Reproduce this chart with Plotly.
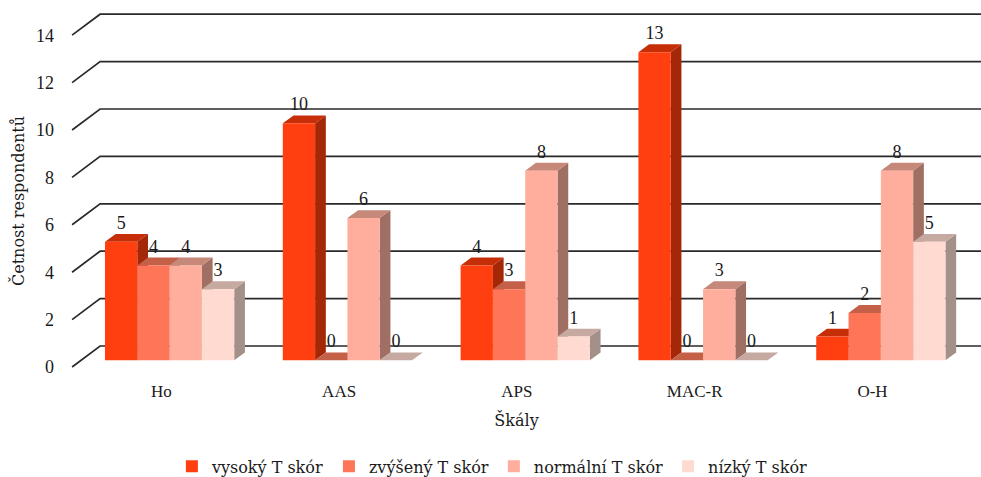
import plotly.graph_objects as go

categories = ["Ho", "AAS", "APS", "MAC-R", "O-H"]
series_names = ["vysoký T skór", "zvýšený T skór", "normální T skór", "nízký T skór"]
vysoky = [5, 10, 4, 13, 1]
zvyseny = [4, 0, 3, 0, 2]
normalni = [4, 6, 8, 3, 8]
nizky = [3, 0, 1, 0, 5]
y_ticks = [0, 2, 4, 6, 8, 10, 12, 14]

series_values = [vysoky, zvyseny, normalni, nizky]
front_colors = ["#FF3F10", "#FF7557", "#FFAE9D", "#FFDAD0"]
top_colors = ["#C62E08", "#C45F48", "#C58879", "#C6A9A0"]
side_colors = ["#A42708", "#A04E3A", "#A06F64", "#A39088"]

NUM_FONT = "Liberation Serif"
TXT_FONT = "DejaVu Serif"
TEXT = "#1a1a1a"
BAR_W = 0.1817      # category units
FIRST = -0.2258     # centre of the first bar relative to the category tick
DX, DY = 0.0602, 0.333   # bar depth
PLANE = 0.283       # value-units lift of the bars' plane over the front wall
WALL_DX, WALL_DY = 0.1575, 0.886  # wall depth

X_RANGE = [-0.5697, 4.610]
Y_RANGE = [-0.211, 15.485]
Y2_RANGE = [Y_RANGE[0] - PLANE, Y_RANGE[1] - PLANE]
WALL_X0 = -0.5017

fig = go.Figure()

# back wall lines
gx, gy = [], []
for t in y_ticks:
    gx += [WALL_X0, WALL_X0 + WALL_DX, 5.0, None]
    gy += [t, t + WALL_DY, t + WALL_DY, None]
fig.add_trace(go.Scatter(x=gx, y=gy, mode="lines", line=dict(color="#2a2a2a", width=1.7),
                         hoverinfo="skip", showlegend=False, cliponaxis=False))

# side and top faces, painted series by series
for j, vals in enumerate(series_values):
    sx, sy, tx, ty = [], [], [], []
    for i, v in enumerate(vals):
        xl = i + FIRST + (j - 0.5) * BAR_W
        xr = xl + BAR_W
        sx += [xr, xr + DX, xr + DX, xr, xr, None]
        sy += [v + PLANE, v + PLANE + DY, PLANE + DY, PLANE, v + PLANE, None]
        tx += [xl, xl + DX, xr + DX, xr, xl, None]
        ty += [v + PLANE, v + PLANE + DY, v + PLANE + DY, v + PLANE, v + PLANE, None]
    for xs, ys, c in ((sx, sy, side_colors[j]), (tx, ty, top_colors[j])):
        fig.add_trace(go.Scatter(x=xs, y=ys, mode="lines", fill="toself", fillcolor=c,
                                 line=dict(width=0, color=c), hoverinfo="skip",
                                 showlegend=False, cliponaxis=False))

# front faces on the overlay axes, so they sit above all side faces
for j, vals in enumerate(series_values):
    centres = [i + FIRST + j * BAR_W for i in range(len(categories))]
    fig.add_trace(go.Bar(x=centres, y=vals, width=BAR_W, name=series_names[j],
                         marker=dict(color=front_colors[j], line=dict(width=0)),
                         xaxis="x2", yaxis="y2"))

# value labels
for j, vals in enumerate(series_values):
    centres = [i + FIRST + j * BAR_W for i in range(len(categories))]
    fig.add_trace(go.Scatter(x=centres, y=[v + 0.738 for v in vals], text=[str(v) for v in vals],
                             mode="text", textposition="middle center",
                             textfont=dict(family=NUM_FONT, size=18, color=TEXT),
                             hoverinfo="skip", showlegend=False, cliponaxis=False,
                             xaxis="x2", yaxis="y2"))

# empty trace on a pair of axes that only carry the axis titles
fig.add_trace(go.Scatter(x=[None], y=[None], mode="lines", hoverinfo="skip", showlegend=False,
                         xaxis="x3", yaxis="y3"))

fig.update_layout(
    width=981, height=477,
    margin=dict(l=60, r=0, t=0, b=105, autoexpand=False),
    paper_bgcolor="white", plot_bgcolor="rgba(0,0,0,0)",
    font=dict(family=TXT_FONT, size=16, color=TEXT),
    barmode="overlay",
    showlegend=True,
    legend=dict(orientation="h", x=0.1215, xanchor="left", y=-0.208, yanchor="top",
                font=dict(family=TXT_FONT, size=16, color=TEXT),
                bgcolor="rgba(0,0,0,0)"),
    xaxis=dict(range=X_RANGE, tickvals=list(range(len(categories))), ticktext=categories,
               showgrid=False, zeroline=False, showline=False, ticks="",
               ticklabelstandoff=7,
               tickfont=dict(family=NUM_FONT, size=17, color=TEXT)),
    yaxis=dict(range=Y_RANGE, tickvals=y_ticks, showgrid=False, zeroline=False, showline=False,
               ticks="", ticklabelstandoff=5,
               tickfont=dict(family=NUM_FONT, size=18, color=TEXT)),
    xaxis2=dict(range=X_RANGE, overlaying="x", visible=False),
    yaxis2=dict(range=Y2_RANGE, overlaying="y", visible=False),
    xaxis3=dict(domain=[0, 0.9913], range=[0, 1], anchor="y3", showgrid=False, zeroline=False,
                showticklabels=False, ticks="",
                title=dict(text="Škály", font=dict(family=TXT_FONT, size=16, color=TEXT), standoff=42)),
    yaxis3=dict(domain=[0, 0.9194], range=[0, 1], anchor="x3", showgrid=False, zeroline=False,
                showticklabels=False, ticks="",
                title=dict(text="Četnost respondentů", font=dict(family=TXT_FONT, size=16, color=TEXT), standoff=30)),
)

fig.write_html("out.html", config=dict(displayModeBar=False),
               post_script="document.body.style.margin='0';")
